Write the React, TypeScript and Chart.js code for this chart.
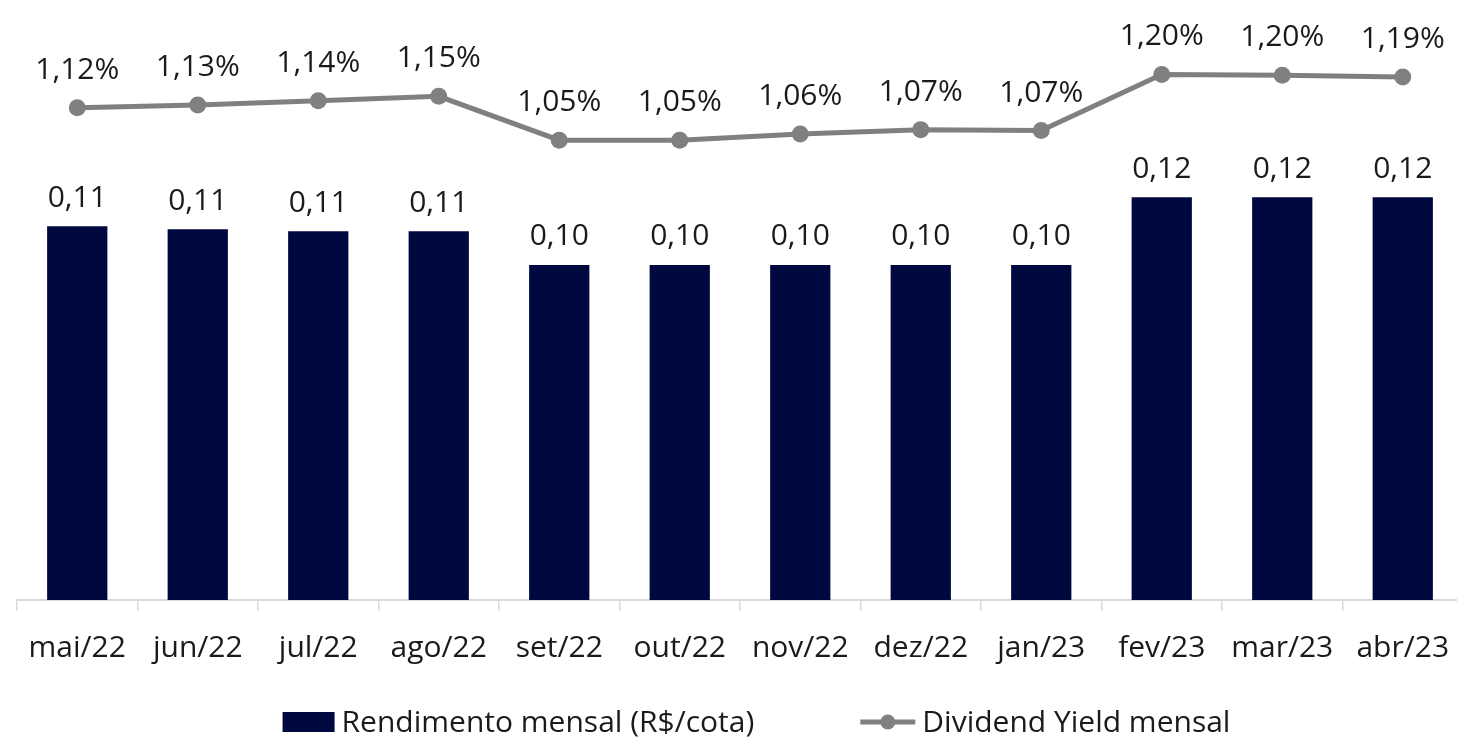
import React, { useEffect, useRef } from "react";
import { Chart, registerables } from "chart.js";

Chart.register(...registerables);

const categories = ["mai/22", "jun/22", "jul/22", "ago/22", "set/22", "out/22", "nov/22", "dez/22", "jan/23", "fev/23", "mar/23", "abr/23"];
const rendimento = [0.1116, 0.1107, 0.1101, 0.1101, 0.1, 0.1, 0.1, 0.1, 0.1, 0.1202, 0.1202, 0.1202];
const dividendYield = [1.124, 1.13, 1.14, 1.15, 1.05, 1.05, 1.064, 1.074, 1.072, 1.2, 1.198, 1.194];
const seriesNames = ["Rendimento mensal (R$/cota)", "Dividend Yield mensal"];

const BAR_MAX = 0.1791;
const LINE_MAX = 1.37;

const FONT = "'Open Sans', 'Noto Sans', sans-serif";
const TEXT_COLOR = "#1a1a1a";
const BAR_COLOR = "#000840";
const LINE_COLOR = "#808080";

const fmt = (v: number, d: number) => v.toFixed(d).replace(".", ",");

const labelsPlugin = {
  id: "valueLabels",
  afterDatasetsDraw(chart: any) {
    const ctx = chart.ctx;
    ctx.save();
    ctx.font = `30px ${FONT}`;
    ctx.fillStyle = TEXT_COLOR;
    ctx.textAlign = "center";
    ctx.textBaseline = "alphabetic";
    chart.data.datasets.forEach((ds: any, i: number) => {
      const meta = chart.getDatasetMeta(i);
      meta.data.forEach((el: any, j: number) => {
        const v = ds.data[j] as number;
        if (ds.type === "bar") {
          ctx.fillText(fmt(v, 2), el.x, el.y - 19.5);
        } else {
          ctx.fillText(fmt(v, 2) + "%", el.x, el.y - 29);
        }
      });
    });
    ctx.restore();
  },
};

const legendPlugin = {
  id: "customLegend",
  afterDraw(chart: any) {
    const ctx = chart.ctx;
    ctx.save();
    ctx.font = `30px ${FONT}`;
    ctx.fillStyle = TEXT_COLOR;
    ctx.textBaseline = "alphabetic";
    ctx.textAlign = "left";
    const boxW = 52;
    const iconW = 55;
    const gap = 7;
    const itemGap = 106;
    const w1 = ctx.measureText(seriesNames[0]).width;
    const w2 = ctx.measureText(seriesNames[1]).width;
    const total = boxW + gap + w1 + itemGap + iconW + gap + w2;
    const cx = chart.width / 2 + 25;
    let x = cx - total / 2;
    const midY = 722;
    const baseY = 732;
    ctx.fillStyle = BAR_COLOR;
    ctx.fillRect(x, midY - 10, boxW, 20);
    x += boxW + gap;
    ctx.fillStyle = TEXT_COLOR;
    ctx.fillText(seriesNames[0], x, baseY);
    x += w1 + itemGap;
    ctx.strokeStyle = LINE_COLOR;
    ctx.lineWidth = 5;
    ctx.beginPath();
    ctx.moveTo(x, midY);
    ctx.lineTo(x + iconW, midY);
    ctx.stroke();
    ctx.fillStyle = LINE_COLOR;
    ctx.beginPath();
    ctx.arc(x + iconW / 2, midY, 7.5, 0, Math.PI * 2);
    ctx.fill();
    x += iconW + gap;
    ctx.fillStyle = TEXT_COLOR;
    ctx.fillText(seriesNames[1], x, baseY);
    ctx.restore();
  },
};

export default function App() {
  const canvasRef = useRef<HTMLCanvasElement | null>(null);

  useEffect(() => {
    document.body.style.margin = "0";
    document.body.style.overflow = "hidden";
    const canvas = canvasRef.current;
    if (!canvas) return;
    const chart = new Chart(canvas, {
      type: "bar",
      data: {
        labels: categories,
        datasets: [
          {
            type: "line",
            label: seriesNames[1],
            data: dividendYield,
            yAxisID: "y1",
            borderColor: LINE_COLOR,
            backgroundColor: LINE_COLOR,
            borderWidth: 5,
            pointRadius: 8.5,
            pointBorderWidth: 0,
            pointBackgroundColor: LINE_COLOR,
            tension: 0,
            order: 0,
          } as any,
          {
            type: "bar",
            label: seriesNames[0],
            data: rendimento,
            yAxisID: "y",
            backgroundColor: BAR_COLOR,
            barPercentage: 0.5,
            categoryPercentage: 1,
            order: 1,
          },
        ],
      },
      options: {
        responsive: false,
        animation: false,
        layout: { autoPadding: false, padding: { left: 17, right: 0, top: 0, bottom: 0 } },
        plugins: {
          legend: { display: false },
          tooltip: { enabled: false },
        },
        scales: {
          x: {
            offset: true,
            grid: {
              display: true,
              drawOnChartArea: false,
              drawTicks: true,
              tickLength: 11,
              color: "#d9d9d9",
              lineWidth: 1.5,
              offset: true,
            },
            border: { display: true, color: "#d9d9d9", width: 2 },
            ticks: {
              padding: 19,
              color: TEXT_COLOR,
              font: { family: FONT, size: 30 },
              maxRotation: 0,
              autoSkip: false,
            },
            afterFit(scale: any) {
              scale.height = 138;
              scale.paddingLeft = 0;
              scale.paddingRight = 0;
            },
          },
          y: { display: false, min: 0, max: BAR_MAX },
          y1: { display: false, min: 0, max: LINE_MAX },
        },
      },
      plugins: [labelsPlugin, legendPlugin],
    });
    return () => chart.destroy();
  }, []);

  return (
    <div style={{ width: 1457, height: 738, overflow: "hidden" }}>
      <canvas ref={canvasRef} width={1463} height={738} style={{ display: "block" }} />
    </div>
  );
}
